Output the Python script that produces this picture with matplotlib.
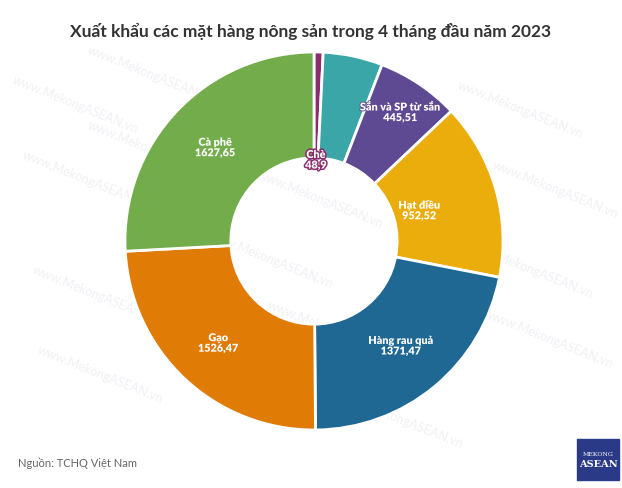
import numpy as np
import matplotlib.pyplot as plt
from matplotlib.patches import Rectangle
import matplotlib.patheffects as pe

plt.rcParams['font.family'] = ['Lato', 'DejaVu Sans']

# clockwise from 12 o'clock; the teal slice has no label in the source
categories = ["Chè", "", "Sắn và SP từ sắn", "Hạt điều", "Hàng rau quả", "Gạo", "Cà phê"]
values = [48.9, 320, 445.51, 952.52, 1371.47, 1526.47, 1627.65]
value_labels = ["48,9", "", "445,51", "952,52", "1371,47", "1526,47", "1627,65"]
colors = ["#8b2c6e", "#3aa6a8", "#5e4a92", "#ebad0c", "#1f6894", "#e07b06", "#73ac4b"]
label_r = [0.43, 0.72, 0.82, 0.58, 0.72, 0.74, 0.72]

W, H = 622, 489
fig = plt.figure(figsize=(W / 100, H / 100), dpi=100)

cx, cy, R = 314, 242, 189
ax = fig.add_axes([(cx - R) / W, (H - cy - R) / H, 2 * R / W, 2 * R / H])
wedges, _ = ax.pie(values, colors=colors, startangle=90, counterclock=False,
                   radius=1, wedgeprops=dict(width=0.56, edgecolor="white", linewidth=2))
ax.set_xlim(-1, 1)
ax.set_ylim(-1, 1)
ax.set_aspect("equal")
ax.axis("off")

for w, name, val, r, c in zip(wedges, categories, value_labels, label_r, colors):
    if not name:
        continue
    mid = np.deg2rad((w.theta1 + w.theta2) / 2)
    x, y = r * np.cos(mid), r * np.sin(mid)
    t = ax.text(x, y, f"{name}\n{val}", ha="center", va="center", color="white",
                fontsize=7.8, fontweight="heavy", linespacing=0.95, zorder=5)
    if name == "Chè":
        t.set_path_effects([pe.withStroke(linewidth=2.2, foreground=c)])
    else:
        t.set_path_effects([pe.withStroke(linewidth=1.2, foreground=c)])

# faint watermarks
wm_pos = [(75, 105), (150, 75), (150, 150), (85, 180), (320, 200), (270, 260),
          (330, 330), (95, 295), (100, 375), (520, 110), (555, 190), (530, 270),
          (550, 340), (400, 420), (210, 300)]
for px, py in wm_pos:
    fig.text(px / W, 1 - py / H, "www.MekongASEAN.vn", fontsize=9, color="#f0f1f5",
             rotation=-22, ha="center", va="center", zorder=-1)

fig.text(0.5, 1 - 32 / H, "Xuất khẩu các mặt hàng nông sản trong 4 tháng đầu năm 2023",
         ha="center", va="center", fontsize=12.5, fontweight="bold", color="#333333")
fig.text(18 / W, 1 - 463 / H, "Nguồn: TCHQ Việt Nam", ha="left", va="center",
         fontsize=8, color="#666666")

# logo box
fig.patches.append(Rectangle((577 / W, 1 - 481 / H), 42 / W, 41 / H,
                             transform=fig.transFigure, color="#2b3a87", zorder=3))
fig.text(598 / W, 1 - 454 / H, "MEKONG", ha="center", va="center", fontsize=4.5,
         color="white", family="DejaVu Serif", zorder=4)
fig.text(598 / W, 1 - 465 / H, "ASEAN", ha="center", va="center", fontsize=7,
         color="white", family="DejaVu Serif", fontweight="bold", zorder=4)

fig.savefig("out.png", dpi=100, facecolor="white")
